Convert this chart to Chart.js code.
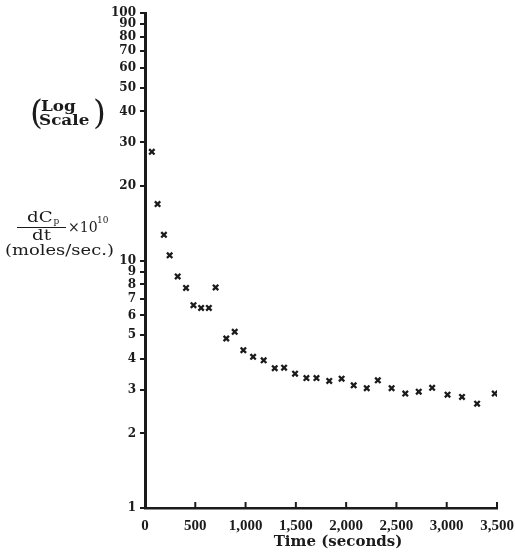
<!DOCTYPE html>
<html>
<head>
<meta charset="utf-8">
<script src="https://cdn.jsdelivr.net/npm/chart.js@4"></script>
<style>
html,body{margin:0;padding:0;background:#fff;}
#wrap{width:515px;height:553px;position:relative;}
</style>
</head>
<body>
<div id="wrap"><canvas id="c" width="515" height="553"></canvas></div>
<script>
const timeSec = [68,125,188,245,325,408,482,558,635,702,808,892,978,1075,1180,1290,1383,1492,1605,1705,1832,1955,2075,2205,2315,2452,2588,2722,2855,3008,3152,3302,3478];
const rate = [27.5,16.9,12.7,10.5,8.62,7.75,6.60,6.43,6.43,7.78,4.84,5.15,4.34,4.08,3.95,3.67,3.69,3.49,3.35,3.35,3.26,3.33,3.13,3.05,3.28,3.05,2.90,2.95,3.06,2.87,2.81,2.64,2.90];
const yTicks = [1,2,3,4,5,6,7,8,9,10,20,30,40,50,60,70,80,90,100];
const xTicks = [0,500,1000,1500,2000,2500,3000,3500];
const xTitle = 'Time (seconds)';

const INK = '#1b1b1b';
const points = timeSec.map((t,i)=>({x:t,y:rate[i]}));

function wideText(ctx, txt, x, y, sx){
  ctx.save();
  ctx.translate(x, y);
  ctx.scale(sx, 1);
  ctx.fillText(txt, 0, 0);
  const w = ctx.measureText(txt).width * sx;
  ctx.restore();
  return w;
}

const annot = {
  id:'annot',
  afterDraw(chart){
    const ctx = chart.ctx;
    const xs = chart.scales.x;
    ctx.save();
    // inward x tick marks
    ctx.strokeStyle = INK; ctx.lineWidth = 2;
    const yb = xs.top;
    xTicks.forEach(v=>{
      if(v===0) return;
      const px = xs.getPixelForValue(v);
      ctx.beginPath(); ctx.moveTo(px, yb); ctx.lineTo(px, yb-6); ctx.stroke();
    });
    ctx.fillStyle = INK;
    ctx.textBaseline = 'alphabetic';
    ctx.textAlign = 'left';
    // x title
    ctx.font = 'bold 15px "DejaVu Serif"';
    ctx.textAlign = 'center';
    ctx.fillText(xTitle, 338, 546);
    ctx.textAlign = 'left';
    // (Log Scale)
    ctx.font = 'bold 14px "DejaVu Serif"';
    wideText(ctx, 'Log', 41, 111, 1.2);
    wideText(ctx, 'Scale', 39, 125, 1.2);
    ctx.font = '33px "DejaVu Serif"';
    ctx.fillText('(', 30, 124);
    ctx.fillText(')', 93, 124);
    // dCp/dt x10^10
    ctx.font = '14px "DejaVu Serif"';
    const w = wideText(ctx, 'dC', 27, 222, 1.3);
    ctx.font = '9px "DejaVu Serif"';
    ctx.fillText('p', 27 + w + 1, 224);
    ctx.font = '14px "DejaVu Serif"';
    wideText(ctx, 'dt', 32, 240, 1.3);
    ctx.lineWidth = 1;
    ctx.beginPath(); ctx.moveTo(17, 227.5); ctx.lineTo(66, 227.5); ctx.stroke();
    ctx.fillText('\u00d710', 68, 232);
    ctx.font = '9px "DejaVu Serif"';
    ctx.fillText('10', 97, 223);
    ctx.font = '14px "DejaVu Serif"';
    wideText(ctx, '(moles/sec.)', 5, 255, 1.28);
    ctx.restore();
  }
};

new Chart(document.getElementById('c'), {
  type: 'scatter',
  data: {
    datasets: [{
      data: points,
      pointStyle: 'crossRot',
      radius: 3.8,
      hoverRadius: 3.8,
      borderWidth: 2.3,
      borderColor: INK,
      backgroundColor: INK
    }]
  },
  options: {
    responsive: false,
    animation: false,
    events: [],
    layout: { padding: { top: 13, right: 18, left: 0, bottom: 0 } },
    plugins: { legend: { display: false }, tooltip: { enabled: false } },
    scales: {
      x: {
        type: 'linear',
        min: 0, max: 3500,
        afterBuildTicks(s){ s.ticks = xTicks.map(v=>({value:v})); },
        afterFit(s){ s.height = 45; s.paddingRight = 0; s.paddingLeft = 0; },
        border: { display: true, color: INK, width: 2.5 },
        grid: { display: true, drawOnChartArea: false, drawTicks: false },
        ticks: {
          color: INK,
          padding: 9,
          maxRotation: 0,
          autoSkip: false,
          font: { family: '"Liberation Serif"', weight: 'bold', size: 15 },
          callback: v => v.toLocaleString('en-US')
        }
      },
      y: {
        type: 'logarithmic',
        min: 1, max: 100,
        afterBuildTicks(s){ s.ticks = yTicks.map(v=>({value:v})); },
        afterFit(s){ s.width = 145; s.paddingTop = 0; s.paddingBottom = 0; },
        border: { display: true, color: INK, width: 3 },
        grid: { display: true, drawOnChartArea: false, drawTicks: true, tickLength: 5, color: INK, lineWidth: 2 },
        ticks: {
          color: INK,
          padding: 4,
          autoSkip: false,
          font: { family: '"DejaVu Serif"', weight: 'bold', size: 12 },
          callback: v => String(v)
        }
      }
    }
  },
  plugins: [annot]
});
</script>
</body>
</html>
